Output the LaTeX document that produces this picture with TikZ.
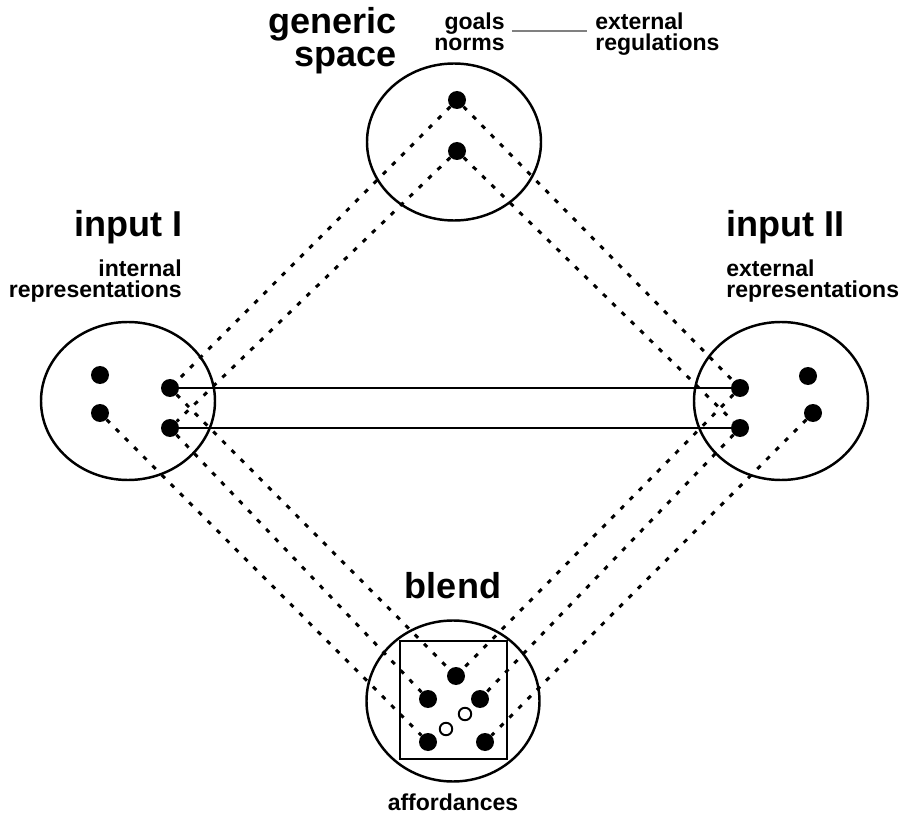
\documentclass[tikz,border=0pt]{standalone}
\usepackage{fontspec}
\setmainfont{Liberation Sans}
\usepackage{tikz}
\tikzset{
  font={\fontsize{13.1pt}{12.5pt}\selectfont\bfseries},
  bigfont/.style={font={\fontsize{20.5pt}{19pt}\selectfont\bfseries}},
  dot/.style={circle,fill=black,minimum size=3.6mm},
  opendot/.style={circle,draw=black,fill=white,line width=1.1pt,minimum size=2.5mm},
  dotline/.style={line width=1.7pt,dash pattern=on 2.6pt off 4.8pt},
  space/.style={line width=1.4pt}}

\begin{document}
\begin{tikzpicture}[scale=0.2]
\tikzstyle{every node}+=[inner sep=0pt]
\useasboundingbox (0,0) rectangle (90.4,-81.8);
\draw [black,space] (45.4,-14.2) ellipse (8.7 and 7.85);
\draw [black,space] (12.8,-40.1) ellipse (8.7 and 7.9);
\draw [black,space] (78.1,-40.1) ellipse (8.7 and 7.9);
\draw [black,space] (45.3,-70.1) ellipse (8.65 and 8.05);
\draw [black,line width=1.2pt] (40.0,-64.1) rectangle (50.7,-75.9);
\node (g1) at (45.7,-10.0) [dot] {};
\node (g2) at (45.7,-15.1) [dot] {};
\node (a1) at (10.0,-37.5) [dot] {};
\node (a2) at (10.0,-41.3) [dot] {};
\node (a3) at (17.0,-38.8) [dot] {};
\node (a4) at (17.0,-42.8) [dot] {};
\node (b1) at (74.0,-38.8) [dot] {};
\node (b2) at (74.0,-42.8) [dot] {};
\node (b3) at (80.8,-37.6) [dot] {};
\node (b4) at (81.3,-41.3) [dot] {};
\node (c1) at (45.6,-67.6) [dot] {};
\node (c2) at (42.8,-69.9) [dot] {};
\node (c3) at (48.0,-69.9) [dot] {};
\node (c4) at (42.8,-74.2) [dot] {};
\node (c5) at (48.5,-74.2) [dot] {};
\node (o1) at (46.5,-71.4) [opendot] {};
\node (o2) at (44.6,-72.9) [opendot] {};
\draw [black,line width=1.2pt] (a3) -- (b1);
\draw [black,line width=1.2pt] (a4) -- (b2);
\draw [black,dotline] (g1) -- (a3);
\draw [black,dotline] (g2) -- (a4);
\draw [black,dotline] (g1) -- (b1);
\draw [black,dotline] (g2) -- (b2);
\draw [black,dotline] (a3) -- (c1);
\draw [black,dotline] (a4) -- (c2);
\draw [black,dotline] (a2) -- (c4);
\draw [black,dotline] (b1) -- (c1);
\draw [black,dotline] (b2) -- (c3);
\draw [black,dotline] (b4) -- (c5);
\node (generic) at (39.7,-6.7) [bigfont,anchor=base east,align=right] {generic\\space};
\node (goals) at (50.5,-5.1) [anchor=base east,align=right] {goals\\norms};
\node (extreg) at (59.5,-5.1) [anchor=base west,align=left] {external\\regulations};
\draw [gray,line width=0.8pt] ([shift={(0.7,2.0)}]goals.base east) -- ([shift={(-0.8,2.0)}]extreg.base west);
\node (inputI) at (18.3,-23.7) [bigfont,anchor=base east] {input I};
\node (internal) at (18.2,-29.8) [anchor=base east,align=right] {internal\\representations};
\node (inputII) at (72.6,-23.7) [bigfont,anchor=base west] {input II};
\node (external) at (72.6,-29.8) [anchor=base west,align=left] {external\\representations};
\node (blend) at (45.3,-59.8) [bigfont,anchor=base] {blend};
\node (afford) at (45.3,-81.0) [anchor=base] {affordances};
\end{tikzpicture}
\end{document}
